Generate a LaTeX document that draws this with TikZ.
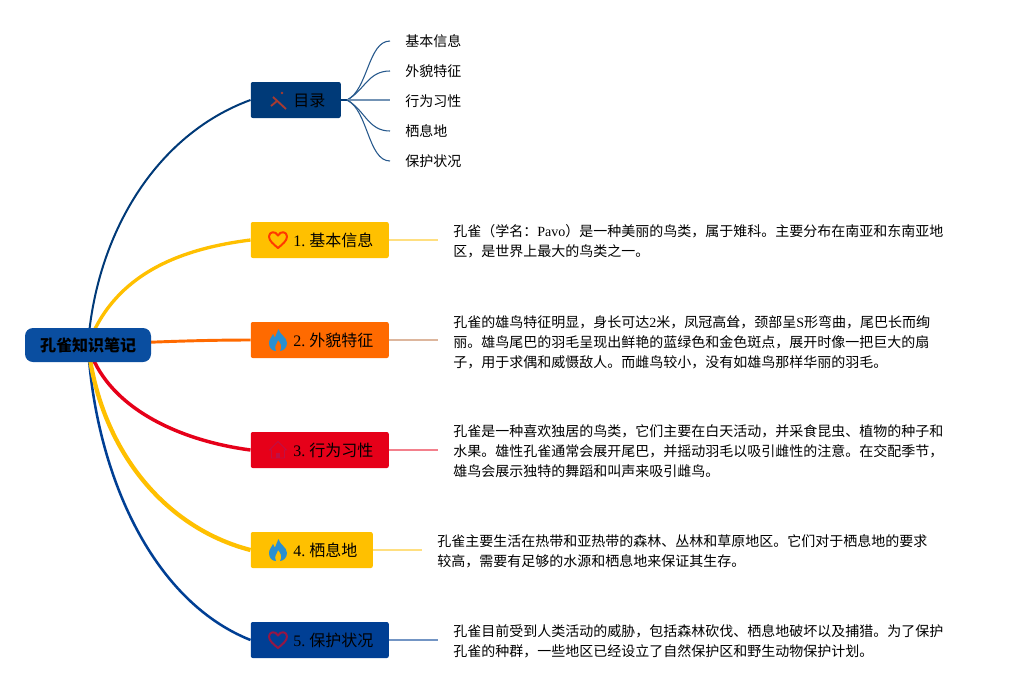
\documentclass[tikz,border=0pt]{standalone}
\usepackage{fontspec}
\setmainfont{Liberation Serif}
\newfontfamily\cjk{Noto Sans CJK SC}
\newcommand\lat[1]{{\rmfamily\normalfont #1}}
\newcommand\numgap{\hspace{3pt}}
\definecolor{cmain}{HTML}{0A4EA0}
\definecolor{cnavy}{HTML}{003A78}
\definecolor{cblue}{HTML}{003F94}
\definecolor{cyel}{HTML}{FFC000}
\definecolor{corg}{HTML}{FF6A00}
\definecolor{cred}{HTML}{E60019}
\definecolor{cflame}{HTML}{2A8FD0}
\definecolor{ctool}{HTML}{A83A30}
\definecolor{chouse}{HTML}{BE1045}
\tikzset{
  x=0.75pt,y=-0.75pt,
  topic/.style={anchor=west,minimum height=27pt,rounded corners=1.5pt,inner sep=0pt},
  toplabel/.style={font=\fontsize{12}{14}\selectfont,anchor=west,inner sep=0pt},
  leaf/.style={anchor=west,inner ysep=0pt,inner xsep=11.25pt,font=\fontsize{10.5}{15}\selectfont\cjk},
  detail/.style={anchor=west,inner ysep=0pt,inner xsep=11.25pt,align=left,font=\fontsize{10.5}{15}\selectfont\cjk},
  fan/.style={draw=cnavy!85,line width=0.8pt},
  heart/.pic={\draw[line width=1.5pt,line join=round] (0,8) .. controls (-4,4.5) and (-9,1) .. (-9,-3.5) .. controls (-9,-8.5) and (-2.5,-9.5) .. (0,-4.5) .. controls (2.5,-9.5) and (9,-8.5) .. (9,-3.5) .. controls (9,1) and (4,4.5) .. (0,8) -- cycle;},
  flame/.pic={\fill[cflame] (0.5,-11) .. controls (1,-6) and (9,-3) .. (9,3) .. controls (9,8) and (5,11) .. (2,11) .. controls (5,7) and (2,2) .. (0,0) .. controls (-1,4) and (-4.5,6) .. (-2,11) .. controls (-6,11) and (-9,8) .. (-9,3) .. controls (-9,-1) and (-6,-3) .. (-5,-6) .. controls (-4,-4) and (-3.5,-3) .. (-3,-2.5) .. controls (-2,-5) and (-1,-8) .. (0.5,-11) -- cycle;},
  house/.pic={\draw[line width=0.7pt,line join=round] (-8.5,0) -- (0,-8.5) -- (8.5,0) -- (6.5,0) -- (6.5,8) -- (-6.5,8) -- (-6.5,0) -- cycle; \fill (-2,3) rectangle (2,8);},
  tools/.pic={\fill (3,-7) circle (1.4); \draw[line width=1.4pt] (-6,-3) -- (7,9); \draw[line width=1.4pt] (-8,6) -- (-2,1);},
}
\begin{document}
\begin{tikzpicture}
\useasboundingbox[fill=white] (0,0) rectangle (1013,690);
% topic nodes
\node[topic,fill=cnavy,minimum width=67.5pt] (toc) at (250.5,100) {};
\node[topic,fill=cyel,minimum width=103.5pt] (t1) at (250.5,240) {};
\node[topic,fill=corg,minimum width=103.5pt] (t2) at (250.5,340) {};
\node[topic,fill=cred,minimum width=103.5pt] (t3) at (250.5,450) {};
\node[topic,fill=cyel,minimum width=91.5pt] (t4) at (250.5,550) {};
\node[topic,fill=cblue,minimum width=103.5pt] (t5) at (250.5,640) {};
% topic labels
\node[toplabel] (ltoc) at (293,100.5) {\cjk 目录};
\node[toplabel] (l1) at (293,240.5) {1.\numgap{\cjk 基本信息}};
\node[toplabel] (l2) at (293,340.5) {2.\numgap{\cjk 外貌特征}};
\node[toplabel] (l3) at (293,450.5) {3.\numgap{\cjk 行为习性}};
\node[toplabel] (l4) at (293,550.5) {4.\numgap{\cjk 栖息地}};
\node[toplabel] (l5) at (293,640.5) {5.\numgap{\cjk 保护状况}};
% icons
\pic[color=ctool] at (279,100) {tools};
\pic[draw=orange!45!red] at (278,240) {heart};
\pic at (278,340) {flame};
\pic[color=chouse] at (278,450) {house};
\pic at (278,550) {flame};
\pic[draw=cred!65!cblue] at (278,640) {heart};
% hub
\coordinate (hub) at (88,345);
\coordinate (fanhub) at (347,100);
% branches
\draw[cnavy,line width=1.5pt] (hub) .. controls (96,235) and (155,135) .. (toc.west);
\draw[cblue,line width=1.9pt] (hub) .. controls (95,470) and (150,600) .. (t5.west);
\draw[cyel,line width=3.2pt] (hub) .. controls (100,450) and (165,528) .. (t4.west);
\draw[cred,line width=2.6pt] (hub) .. controls (105,405) and (175,440) .. (t3.west);
\draw[cyel,line width=2.5pt] (hub) .. controls (112,280) and (170,250) .. (t1.west);
\draw[corg,line width=2.2pt] (hub) .. controls (150,342) and (200,340) .. (t2.west);
% main node
\node[fill=cmain,rounded corners=6pt,minimum width=94.5pt,minimum height=25.5pt,inner sep=0pt,font=\fontsize{12}{14}\selectfont\cjk\bfseries] (main) at (88,345) {孔雀知识笔记};
% leaves
\node[leaf] (a1) at (390,41) {基本信息};
\node[leaf] (a2) at (390,71) {外貌特征};
\node[leaf] (a3) at (390,101) {行为习性};
\node[leaf] (a4) at (390,131) {栖息地};
\node[leaf] (a5) at (390,161) {保护状况};
\draw[cnavy,line width=1.6pt] (toc.east) -- (fanhub);
\draw[fan] (fanhub) .. controls (368,90) and (368,41) .. (a1.west);
\draw[fan] (fanhub) .. controls (365,90) and (368,71) .. (a2.west);
\draw[cnavy!55,line width=1.6pt] (fanhub) -- (a3.west |- fanhub);
\draw[fan] (fanhub) .. controls (365,110) and (368,131) .. (a4.west);
\draw[fan] (fanhub) .. controls (368,110) and (368,161) .. (a5.west);
% details
\node[detail] (d1) at (438,241) {孔雀（学名：\lat{Pavo}）是一种美丽的鸟类，属于雉科。主要分布在南亚和东南亚地\\区，是世界上最大的鸟类之一。};
\node[detail] (d2) at (438,342) {孔雀的雄鸟特征明显，身长可达\lat{2}米，凤冠高耸，颈部呈\lat{S}形弯曲，尾巴长而绚\\丽。雄鸟尾巴的羽毛呈现出鲜艳的蓝绿色和金色斑点，展开时像一把巨大的扇\\子，用于求偶和威慑敌人。而雌鸟较小，没有如雄鸟那样华丽的羽毛。};
\node[detail] (d3) at (438,451) {孔雀是一种喜欢独居的鸟类，它们主要在白天活动，并采食昆虫、植物的种子和\\水果。雄性孔雀通常会展开尾巴，并摇动羽毛以吸引雌性的注意。在交配季节，\\雄鸟会展示独特的舞蹈和叫声来吸引雌鸟。};
\node[detail] (d4) at (422,551) {孔雀主要生活在热带和亚热带的森林、丛林和草原地区。它们对于栖息地的要求\\较高，需要有足够的水源和栖息地来保证其生存。};
\node[detail] (d5) at (438,641) {孔雀目前受到人类活动的威胁，包括森林砍伐、栖息地破坏以及捕猎。为了保护\\孔雀的种群，一些地区已经设立了自然保护区和野生动物保护计划。};
\draw[cyel!50,line width=1.4pt] (t1.east) -- (d1.west |- t1.east);
\draw[corg!70!cnavy!45,line width=1.4pt] (t2.east) -- (d2.west |- t2.east);
\draw[cred!50,line width=1.4pt] (t3.east) -- (d3.west |- t3.east);
\draw[cyel!50,line width=1.4pt] (t4.east) -- (d4.west |- t4.east);
\draw[cblue!55,line width=1.4pt] (t5.east) -- (d5.west |- t5.east);
\end{tikzpicture}
\end{document}
